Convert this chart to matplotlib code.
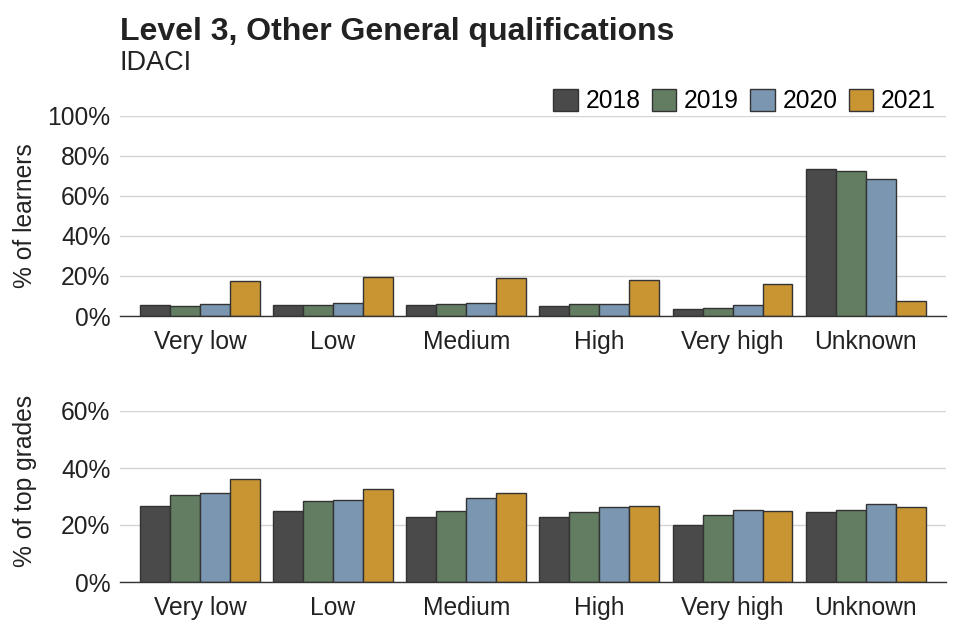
import matplotlib
matplotlib.use("Agg")
import matplotlib.pyplot as plt
import numpy as np
from matplotlib.ticker import FuncFormatter
from matplotlib.patches import Patch

plt.rcParams['font.family'] = ['Liberation Sans', 'DejaVu Sans']

categories = ["Very low", "Low", "Medium", "High", "Very high", "Unknown"]
years = ["2018", "2019", "2020", "2021"]
colors = ["#4a4a4a", "#637d63", "#7b96b0", "#c89532"]

learners = {
    "2018": [5.3, 5.3, 5.6, 5.1, 3.5, 73.2],
    "2019": [4.8, 5.3, 5.8, 5.8, 4.1, 72.5],
    "2020": [6.0, 6.3, 6.3, 6.0, 5.5, 68.2],
    "2021": [17.7, 19.5, 18.9, 17.9, 16.1, 7.5],
}
top_grades = {
    "2018": [26.8, 24.9, 22.8, 22.8, 20.0, 24.4],
    "2019": [30.5, 28.4, 25.0, 24.6, 23.5, 25.2],
    "2020": [31.1, 28.8, 29.5, 26.4, 25.2, 27.2],
    "2021": [36.1, 32.7, 31.4, 26.7, 24.9, 26.4],
}

fig = plt.figure(figsize=(9.6, 6.4), dpi=100)
ax1 = fig.add_axes([0.125, 1 - 316 / 640, 0.860, (316 - 115.5) / 640])
ax2 = fig.add_axes([0.125, 1 - 582 / 640, 0.860, (582 - 411) / 640])

x = np.arange(len(categories))
w = 0.225
fs = 17.7
txt = "#222222"

def draw(ax, data, ymax, ticks, ylabel):
    for i, y in enumerate(years):
        ax.bar(x + (i - 1.5) * w, np.array(data[y]) / 100, width=w, color=colors[i],
               edgecolor="#333333", linewidth=1.0, zorder=3)
    ax.set_xlim(-0.6, len(categories) - 0.4)
    ax.set_ylim(0, ymax)
    ax.set_yticks(ticks)
    ax.yaxis.set_major_formatter(FuncFormatter(lambda v, p: f"{v*100:.0f}%"))
    ax.set_xticks(x)
    ax.set_xticklabels(categories)
    ax.tick_params(axis='both', length=0, labelsize=fs, colors=txt)
    ax.tick_params(axis='x', pad=10)
    ax.tick_params(axis='y', pad=7)
    ax.grid(axis='y', color="#d4d4d4", linewidth=1.0, zorder=0)
    for s in ["top", "right", "left"]:
        ax.spines[s].set_visible(False)
    ax.spines["bottom"].set_color("#333333")
    ax.spines["bottom"].set_linewidth(1.0)
    ax.spines["bottom"].set_zorder(4)
    ax.set_ylabel(ylabel, fontsize=fs, color=txt)

draw(ax1, learners, 1.0, [0, 0.2, 0.4, 0.6, 0.8, 1.0], "% of learners")
draw(ax2, top_grades, 0.6, [0, 0.2, 0.4, 0.6], "% of top grades")
ax1.yaxis.set_label_coords(-0.10, 0.5)
ax2.yaxis.set_label_coords(-0.10, (582 - 481) / (582 - 411))

fig.text(0.125, 1 - 40 / 640, "Level 3, Other General qualifications", fontsize=23,
         fontweight="bold", color=txt, va="baseline")
fig.text(0.125, 1 - 70 / 640, "IDACI", fontsize=19.5, color=txt, va="baseline")

handles = [Patch(facecolor=c, edgecolor="#333333", label=y) for c, y in zip(colors, years)]
fig.legend(handles=handles, loc="center right", bbox_to_anchor=(0.975, 1 - 101 / 640),
           ncol=4, frameon=False, fontsize=fs, handlelength=1.0, handleheight=1.0,
           handletextpad=0.32, columnspacing=0.45, borderaxespad=0, borderpad=0)

fig.savefig("out.png", dpi=100)
